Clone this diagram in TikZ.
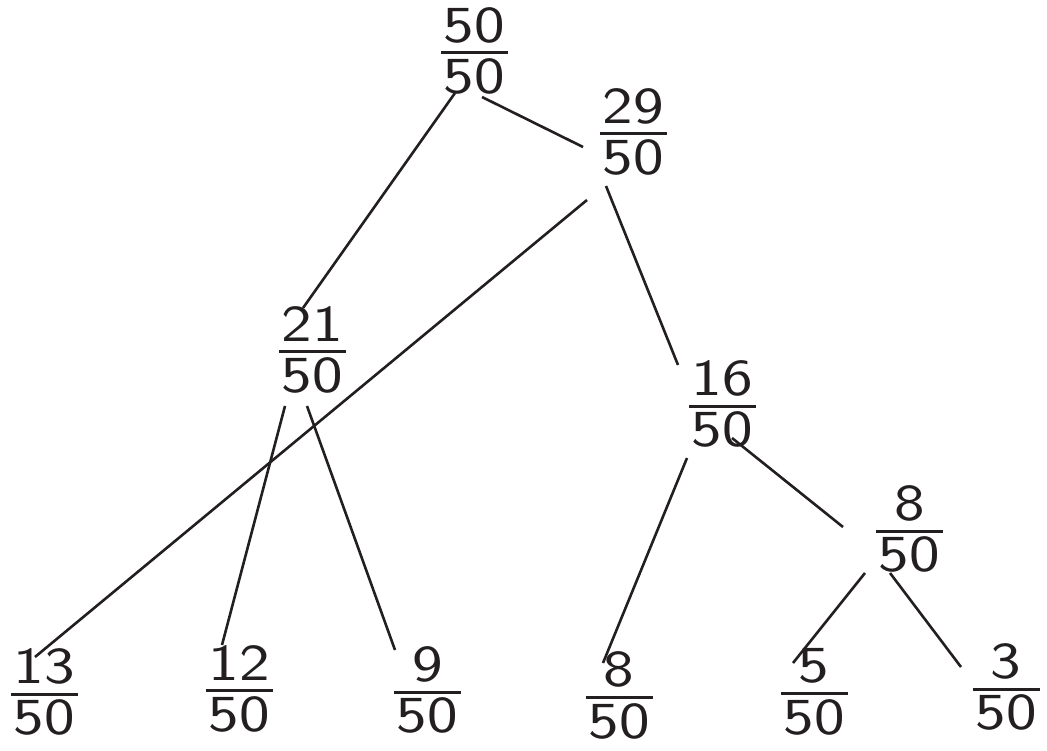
\documentclass[tikz,border=0pt]{standalone}
\usepackage{graphicx}
\usetikzlibrary{calc}
\definecolor{ink}{RGB}{35,31,32}
\newcommand\fsx{1.25}
\newcommand\myfr[2]{\vbox{\hbox to67pt{\hss\scalebox{\fsx}[1]{#1}\hss}\kern8.5pt\hrule height3pt\kern4pt\hbox to67pt{\hss\scalebox{\fsx}[1]{#2}\hss}}}
\tikzset{
  frac/.style={inner sep=0pt, outer sep=0pt, text=ink, font=\sffamily\fontsize{52}{60}\selectfont},
  link/.style={draw=ink, line width=2.6pt}
}
\begin{document}
\begin{tikzpicture}[x=1pt,y=-1pt]
\useasboundingbox (0,0) rectangle (1047,751);
\node[frac] (n1) at (474.5,50.75) {\myfr{50}{50}};
\node[frac] (n2) at (633,131.75) {\myfr{29}{50}};
\node[frac] (n3) at (312.5,349.75) {\myfr{21}{50}};
\node[frac] (n4) at (722.5,403.75) {\myfr{16}{50}};
\node[frac] (n5) at (909.5,528.75) {\myfr{8}{50}};
\node[frac] (l1) at (44.5,691.75) {\myfr{13}{50}};
\node[frac] (l2) at (239,688.75) {\myfr{12}{50}};
\node[frac] (l3) at (427.5,689.75) {\myfr{9}{50}};
\node[frac] (l4) at (619,695.5) {\myfr{8}{50}};
\node[frac] (l5) at (814,691.75) {\myfr{5}{50}};
\node[frac] (l6) at (1006,686.75) {\myfr{3}{50}};
\draw[link] ($(n1)+(-19.5,42.25)$) -- ($(n3)+(-9.5,-41.75)$);
\draw[link] ($(n1)+(7.5,46.25)$) -- ($(n2)+(-50,15.25)$);
\draw[link] ($(n2)+(-46,68.25)$) -- ($(l1)+(-9.5,-34.75)$);
\draw[link] ($(n2)+(-27,54.25)$) -- ($(n4)+(-44.5,-38.75)$);
\draw[link] ($(n3)+(-27.5,56.25)$) -- ($(l2)+(-17,-43.75)$);
\draw[link] ($(n3)+(-5.5,56.25)$) -- ($(l3)+(-32.5,-39.75)$);
\draw[link] ($(n4)+(-35.5,54.25)$) -- ($(l4)+(-16,-32.5)$);
\draw[link] ($(n4)+(9.5,34.25)$) -- ($(n5)+(-66.5,-1.75)$);
\draw[link] ($(n5)+(-44.5,44.25)$) -- ($(l5)+(-21,-28.75)$);
\draw[link] ($(n5)+(-19.5,44.25)$) -- ($(l6)+(-45,-19.75)$);
\end{tikzpicture}
\end{document}
